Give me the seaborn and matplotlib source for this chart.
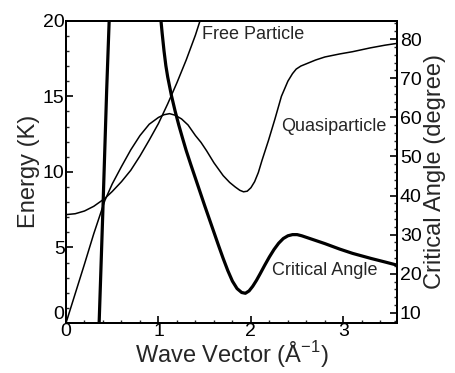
import matplotlib
matplotlib.use("Agg")
import matplotlib.pyplot as plt
from matplotlib.ticker import MultipleLocator
import seaborn as sns
import pandas as pd

# Quasiparticle dispersion (Energy, K)
qp_k = [0.0, 0.1, 0.2, 0.3, 0.42, 0.5, 0.6, 0.7, 0.8, 0.9, 1.0, 1.06, 1.12, 1.18, 1.25,
        1.32, 1.4, 1.46, 1.52, 1.6, 1.7, 1.77, 1.83, 1.88, 1.92, 1.96, 2.0, 2.04,
        2.08, 2.12, 2.19, 2.26, 2.33, 2.40, 2.45, 2.49, 2.54, 2.6, 2.7, 2.8, 2.96,
        3.1, 3.29, 3.45, 3.58]
qp_E = [0.0, 1.95, 3.9, 5.9, 8.1, 9.2, 10.35, 11.45, 12.4, 13.15, 13.6, 13.78, 13.85, 13.75, 13.5,
        13.1, 12.4, 11.95, 11.4, 10.6, 9.75, 9.3, 9.0, 8.78, 8.68, 8.72, 8.95, 9.35,
        9.95, 10.76, 12.08, 13.5, 15.0, 16.0, 16.5, 16.8, 17.0, 17.15, 17.4, 17.6, 17.8,
        17.95, 18.2, 18.38, 18.5]

# Free particle (Energy, K)
fp_k = [0.0, 0.1, 0.2, 0.3, 0.42, 0.5, 0.6, 0.7, 0.8, 0.9, 1.0, 1.1, 1.2, 1.3, 1.4, 1.45]
fp_E = [7.17, 7.23, 7.41, 7.72, 8.24, 8.7, 9.35, 10.1, 11.05, 12.1, 13.2, 14.5, 15.9, 17.4, 19.05, 20.0]

# Critical angle (degree), two branches
ca1_k = [0.355, 0.40, 0.44, 0.475]
ca1_a = [5.0, 37.0, 67.0, 90.0]
ca2_k = [1.02, 1.04, 1.06, 1.08, 1.10, 1.14, 1.18, 1.22, 1.26, 1.30, 1.35, 1.40, 1.45,
         1.50, 1.55, 1.60, 1.65, 1.70, 1.75, 1.80, 1.85, 1.90, 1.94, 1.98, 2.02, 2.06,
         2.10, 2.15, 2.20, 2.25, 2.30, 2.35, 2.40, 2.45, 2.50, 2.55, 2.65, 2.80, 2.96,
         3.10, 3.30, 3.45, 3.58]
ca2_a = [86.5, 81.5, 77.0, 73.2, 70.3, 65.6, 61.6, 58.0, 54.7, 51.5, 47.9, 44.4, 40.9,
         37.4, 34.0, 30.6, 27.2, 23.9, 20.8, 18.1, 16.2, 15.2, 15.0, 15.6, 16.8, 18.3,
         20.0, 22.2, 24.3, 26.2, 27.8, 29.0, 29.7, 30.0, 30.0, 29.7, 28.9, 27.7, 26.3,
         25.2, 23.9, 23.0, 22.2]

sns.set_style("ticks")
plt.rcParams['font.family'] = ['Liberation Sans', 'DejaVu Sans']
plt.rcParams['mathtext.fontset'] = 'custom'
plt.rcParams['mathtext.rm'] = 'Liberation Sans'

fig = plt.figure(figsize=(4.55, 3.73), dpi=100)
ax = fig.add_axes([66/455, 1 - 323/373, (397 - 66)/455, (323 - 20.7)/373])
ax2 = ax.twinx()

qp = pd.DataFrame({"k": qp_k, "E": qp_E})
fp = pd.DataFrame({"k": fp_k, "E": fp_E})
c1 = pd.DataFrame({"k": ca1_k, "a": ca1_a})
c2 = pd.DataFrame({"k": ca2_k, "a": ca2_a})

sns.lineplot(data=qp, x="k", y="E", ax=ax, color="black", lw=1.1, sort=False)
sns.lineplot(data=fp, x="k", y="E", ax=ax, color="black", lw=1.1, sort=False)
sns.lineplot(data=c1, x="k", y="a", ax=ax2, color="black", lw=2.3, sort=False)
sns.lineplot(data=c2, x="k", y="a", ax=ax2, color="black", lw=2.3, sort=False)

ax.set_xlim(0, 3.58)
ax.set_ylim(0, 20)
ax2.set_ylim(7.4, 84.7)

ax.xaxis.set_major_locator(MultipleLocator(1))
ax.xaxis.set_minor_locator(MultipleLocator(0.2))
ax.yaxis.set_major_locator(MultipleLocator(5))
ax.yaxis.set_minor_locator(MultipleLocator(1))
ax2.yaxis.set_major_locator(MultipleLocator(10))
ax2.yaxis.set_minor_locator(MultipleLocator(2))

for a in (ax, ax2):
    for s in a.spines.values():
        s.set_linewidth(1.4)
        s.set_color("black")
    a.tick_params(which="major", direction="in", length=5, width=1.2, labelsize=14, pad=2, colors="black")
    a.tick_params(which="minor", direction="in", length=2.5, width=1.0)

ax.tick_params(axis="x", pad=0)
ax.tick_params(axis="y", pad=1)
ax.set_xlabel("Wave Vector (Å$^{-1}$)", fontsize=17, labelpad=-1)
ax.set_ylabel("Energy (K)", fontsize=17, labelpad=2)
ax2.set_ylabel("Critical Angle (degree)", fontsize=17, labelpad=2)

# the y-axis "0" sits slightly above the corner, as in the original
fig.canvas.draw()
for lab in ax.get_yticklabels():
    if lab.get_text() == "0":
        lab.set_verticalalignment("bottom")

ax.text(1.47, 19.1, "Free Particle", fontsize=13, ha="left", va="center")
ax.text(3.47, 13.0, "Quasiparticle", fontsize=13, ha="right", va="center")
ax.text(3.37, 3.5, "Critical Angle", fontsize=13, ha="right", va="center")

fig.savefig("out.png", dpi=100)
